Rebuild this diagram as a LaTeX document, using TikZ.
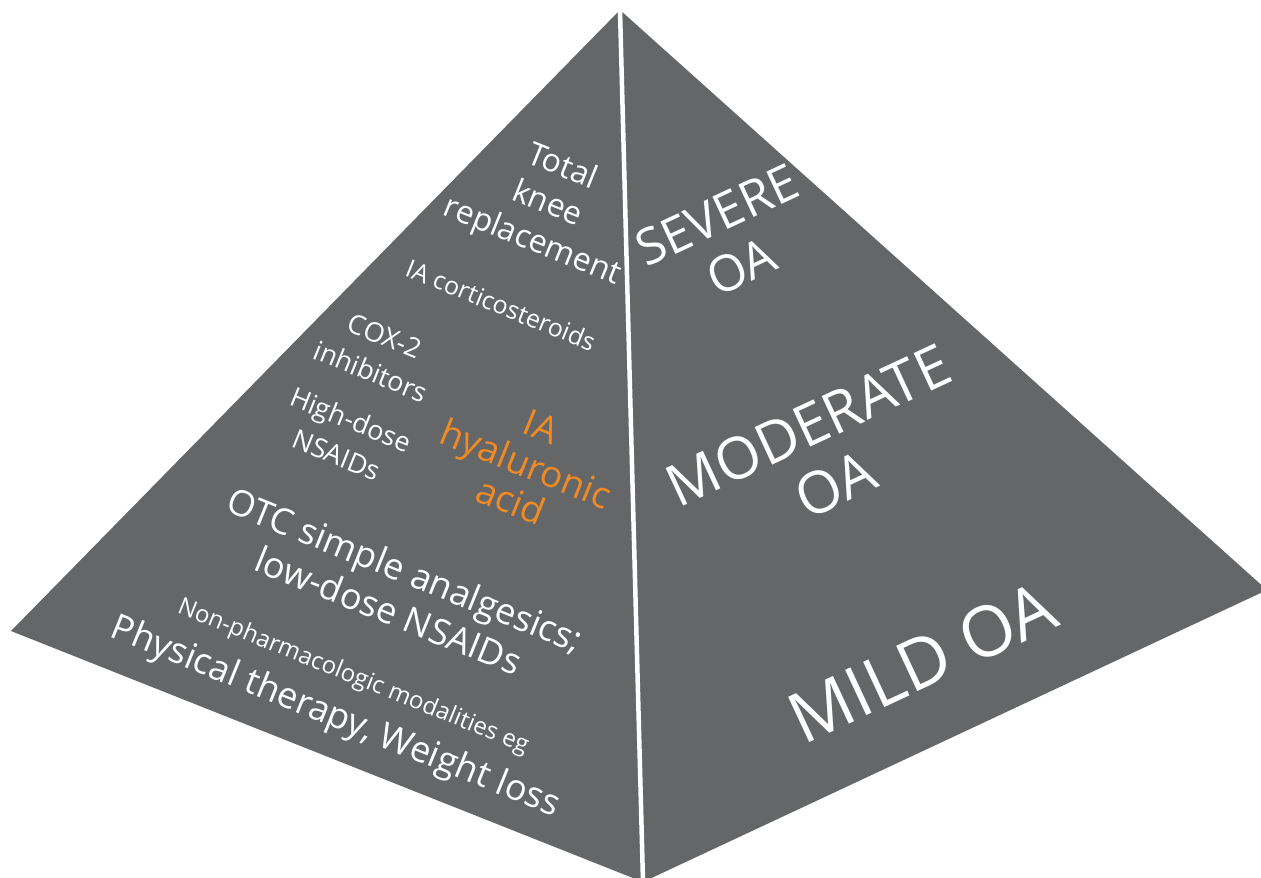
\documentclass[tikz,border=0pt]{standalone}
\usepackage{fontspec}
\setmainfont{Open Sans}

\definecolor{pyrgray}{RGB}{101,102,104}
\definecolor{pyrorange}{RGB}{240,138,36}

% font size and baseline skip in one go
\newcommand{\fsz}[2]{\fontsize{#1}{#2}\selectfont}

\begin{document}
\begin{tikzpicture}[x=1pt, y=-1pt,
        facetext/.style={text=white, align=center, inner sep=0pt},
        lside/.style={facetext, rotate=-22},
        rside/.style={facetext, rotate=25}]
        \useasboundingbox (0,0) rectangle (1261,878);
        \clip (0,0) rectangle (1261,878);

        \coordinate (apex) at (620,10);
        \coordinate (lcorner) at (11,631);
        \coordinate (rcorner) at (1267,590);
        \coordinate (base) at (643,882);

        % the two faces and the ridge between them
        \fill[pyrgray] (apex) -- (lcorner) -- (base) -- cycle;
        \fill[pyrgray] (apex) -- (rcorner) -- (base) -- cycle;
        \draw[white, line width=4.5pt] (apex) -- (base);

        % treatments, left face
        \node[lside, font=\fsz{32}{40}] (tkr) at (547,205) {Total\\knee\\replacement};
        \node[lside, font=\fsz{25}{30}] (cortico) at (501,305) {IA corticosteroids};
        \node[lside, font=\fsz{27}{38}] (cox) at (378,354) {COX-2\\inhibitors};
        \node[lside, font=\fsz{27}{38}] (highdose) at (344,437) {High-dose\\NSAIDs};
        \node[lside, font=\fsz{37}{40}, text=pyrorange] (hyal) at (526,464) {IA\\hyaluronic\\acid};
        \node[lside, font=\fsz{36}{44}] (otc) at (397,590) {OTC simple analgesics;\\low-dose NSAIDs};
        \node[lside, font=\fsz{24}{28}] (nonpharm) at (353,677) {Non-pharmacologic modalities eg};
        \node[lside, font=\fsz{36}{40}] (physical) at (335,718) {Physical therapy, Weight loss};

        % severity, right face
        \node[rside, font=\fsz{50}{57}] (severe) at (729,241) {SEVERE\\OA};
        \node[rside, font=\fsz{58}{65}] (moderate) at (822,455) {MODERATE\\OA};
        \node[rside, font=\fsz{70}{80}] (mild) at (922,662) {MILD OA};
\end{tikzpicture}
\end{document}
